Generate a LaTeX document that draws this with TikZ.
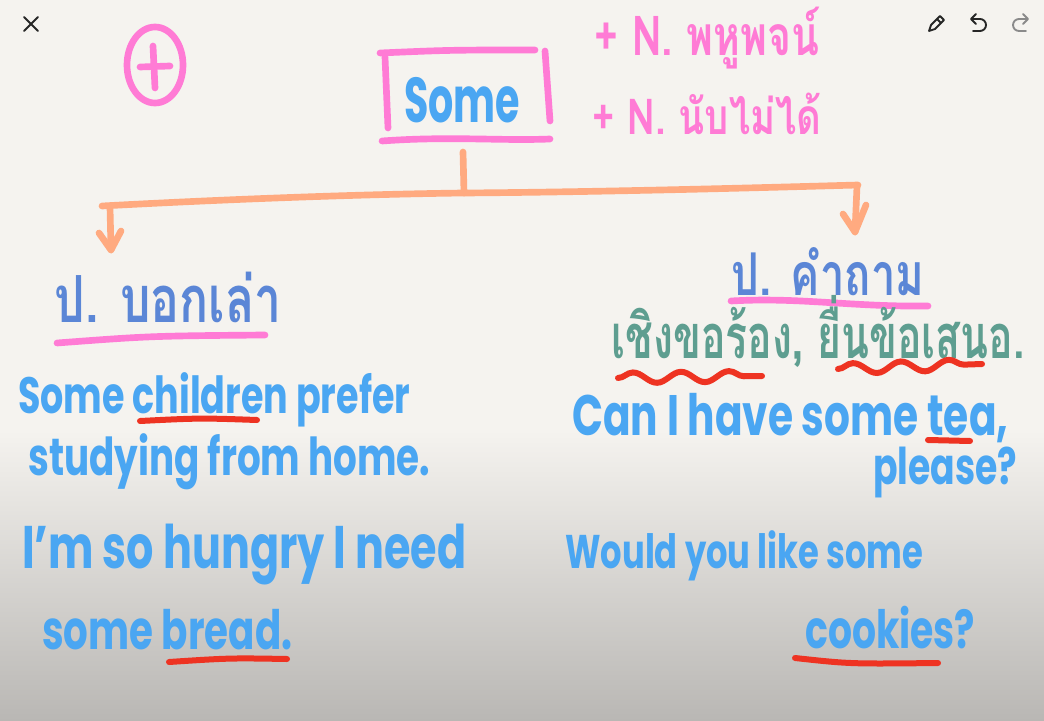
\documentclass[tikz,border=0pt]{standalone}
\usepackage{fontspec}
\usepackage{graphicx}
\setmainfont{Poppins}
\newfontfamily\thai[Script=Thai]{Loma}
\usetikzlibrary{arrows.meta,decorations.pathmorphing}
\definecolor{bgtop}{HTML}{F5F3EF}
\definecolor{bgmid}{HTML}{E2E0DC}
\definecolor{bgbot}{HTML}{B9B7B4}
\definecolor{inkblue}{HTML}{4AA6F2}
\definecolor{inkdblue}{HTML}{5B86D6}
\definecolor{inkteal}{HTML}{5E9E90}
\definecolor{inkpink}{HTML}{FF7BD5}
\definecolor{inkorange}{HTML}{FFAA80}
\definecolor{inkred}{HTML}{EE3322}
\definecolor{icongrey}{HTML}{8A8A8A}
\newdimen\pxu \pxu=0.75pt
\newcommand\fw[3][1.4]{\scalebox{1}[#1]{\resizebox{#2\pxu}{!}{#3}}}
\tikzset{
  pen/.style={line width=5pt,line cap=round,line join=round},
  pinkpen/.style={pen,draw=inkpink},
  orangepen/.style={pen,draw=inkorange},
  redpen/.style={line width=4.5pt,line cap=round,draw=inkred},
  bluetxt/.style={inner sep=0pt,text=inkblue,font=\bfseries},
  headtxt/.style={inner sep=0pt,text=inkdblue,font=\thai\bfseries},
  icon/.style={line width=1.4pt,line cap=round,line join=round,draw=black!85},
}
\begin{document}
\begin{tikzpicture}[x=0.75pt,y=-0.75pt]
\useasboundingbox (0,0) rectangle (1044,720);
\fill[bgtop] (0,0) rectangle (1044,720);
\shade[top color=bgtop,middle color=bgmid,bottom color=bgbot] (0,430) rectangle (1044,721);

% toolbar icons
\draw[icon] (24,17) -- (38,31) (38,17) -- (24,31);
\draw[icon] (929,31) -- (931,25) -- (940,16) -- (944,20) -- (935,29) -- cycle (937,19) -- (941,23);
\draw[icon] (972,19) -- (980,19) arc[start angle=-90,end angle=90,radius=6] -- (973,31);
\draw[icon] (976,14) -- (971,19) -- (976,24);
\draw[icon,draw=icongrey] (1027,19) -- (1019,19) arc[start angle=-90,end angle=-270,radius=6] -- (1026,31);
\draw[icon,draw=icongrey] (1023,14) -- (1028,19) -- (1023,24);

% circled plus
\draw[pinkpen] (155,65) ellipse [x radius=28, y radius=38];
\draw[pinkpen] (153,46) -- (155,88) (140,67) -- (170,66);

% Some box
\node[bluetxt] (some) at (462,100) {\fw[1.6]{116}{Some}};
\draw[pinkpen] (380,53) .. controls (450,50) .. (535,50);
\draw[pinkpen] (385,57) -- (388,128);
\draw[pinkpen] (545,51) -- (550,121);
\draw[pinkpen] (382,141) .. controls (450,136) and (500,141) .. (550,139);

% pink notes
\node[inner sep=0pt,text=inkpink,font=\thai\bfseries] (n1) at (707,38) {\fw[1.35]{225}{+ N. พหูพจน์}};
\node[inner sep=0pt,text=inkpink,font=\thai\bfseries] (n2) at (707,114) {\fw[1.3]{229}{+ N. นับไม่ได้}};

% tree
\coordinate (top) at (463,152);
\coordinate (j) at (464,193);
\coordinate (lend) at (102,206);
\coordinate (rend) at (858,185);
\coordinate (ltip) at (111,250);
\coordinate (rtip) at (855,232);
\draw[orangepen] (top) -- (j);
\draw[orangepen] (lend) .. controls (250,198) and (380,194) .. (j) .. controls (600,192) and (750,188) .. (rend);
\draw[orangepen] (110,207) -- (ltip);
\draw[orangepen] (99,233) -- (ltip) -- (121,231);
\draw[orangepen] (857,186) -- (rtip);
\draw[orangepen] (843,214) -- (rtip) -- (866,205);

% left column
\node[headtxt] (hl) at (168,297) {\fw[1.35]{227}{ป. บอกเล่า}};
\draw[pinkpen] (57,343) .. controls (150,336) .. (265,335);
\node[bluetxt,anchor=west] (l1) at (18,400) {\fw{392}{Some children prefer}};
\draw[redpen] (140,421) .. controls (200,418) .. (257,420);
\node[bluetxt,anchor=west] (l2) at (28,462) {\fw{402}{studying from home.}};
\node[bluetxt,anchor=west] (l3) at (22,555) {\fw{444}{I'm so hungry I need}};
\node[bluetxt,anchor=west] (l4) at (42,630) {\fw{250}{some bread.}};
\draw[redpen] (169,662) .. controls (230,658) .. (287,659);

% right column
\node[headtxt] (hr) at (828,272) {\fw[1.35]{193}{ป. คำถาม}};
\draw[pinkpen] (731,301) .. controls (800,297) and (850,307) .. (928,306);
\node[inner sep=0pt,text=inkteal,font=\thai\bfseries] (req) at (818,331) {\fw[1.5]{413}{เชิงขอร้อง, ยื่นข้อเสนอ.}};
\draw[redpen,decorate,decoration={snake,segment length=36,amplitude=4}] (618,378) -- (762,376);
\draw[redpen,decorate,decoration={snake,segment length=36,amplitude=4}] (838,369) -- (982,364);
\node[bluetxt,anchor=west] (r1) at (572,418) {\fw{436}{Can I have some tea,}};
\draw[redpen] (928,440) -- (970,441);
\node[bluetxt,anchor=west] (r2) at (873,472) {\fw{144}{please?}};
\node[bluetxt,anchor=west] (r3) at (565,556) {\fw{358}{Would you like some}};
\node[bluetxt,anchor=west] (r4) at (805,628) {\fw{170}{cookies?}};
\draw[redpen] (795,658) .. controls (850,664) .. (938,663);
\end{tikzpicture}
\end{document}
